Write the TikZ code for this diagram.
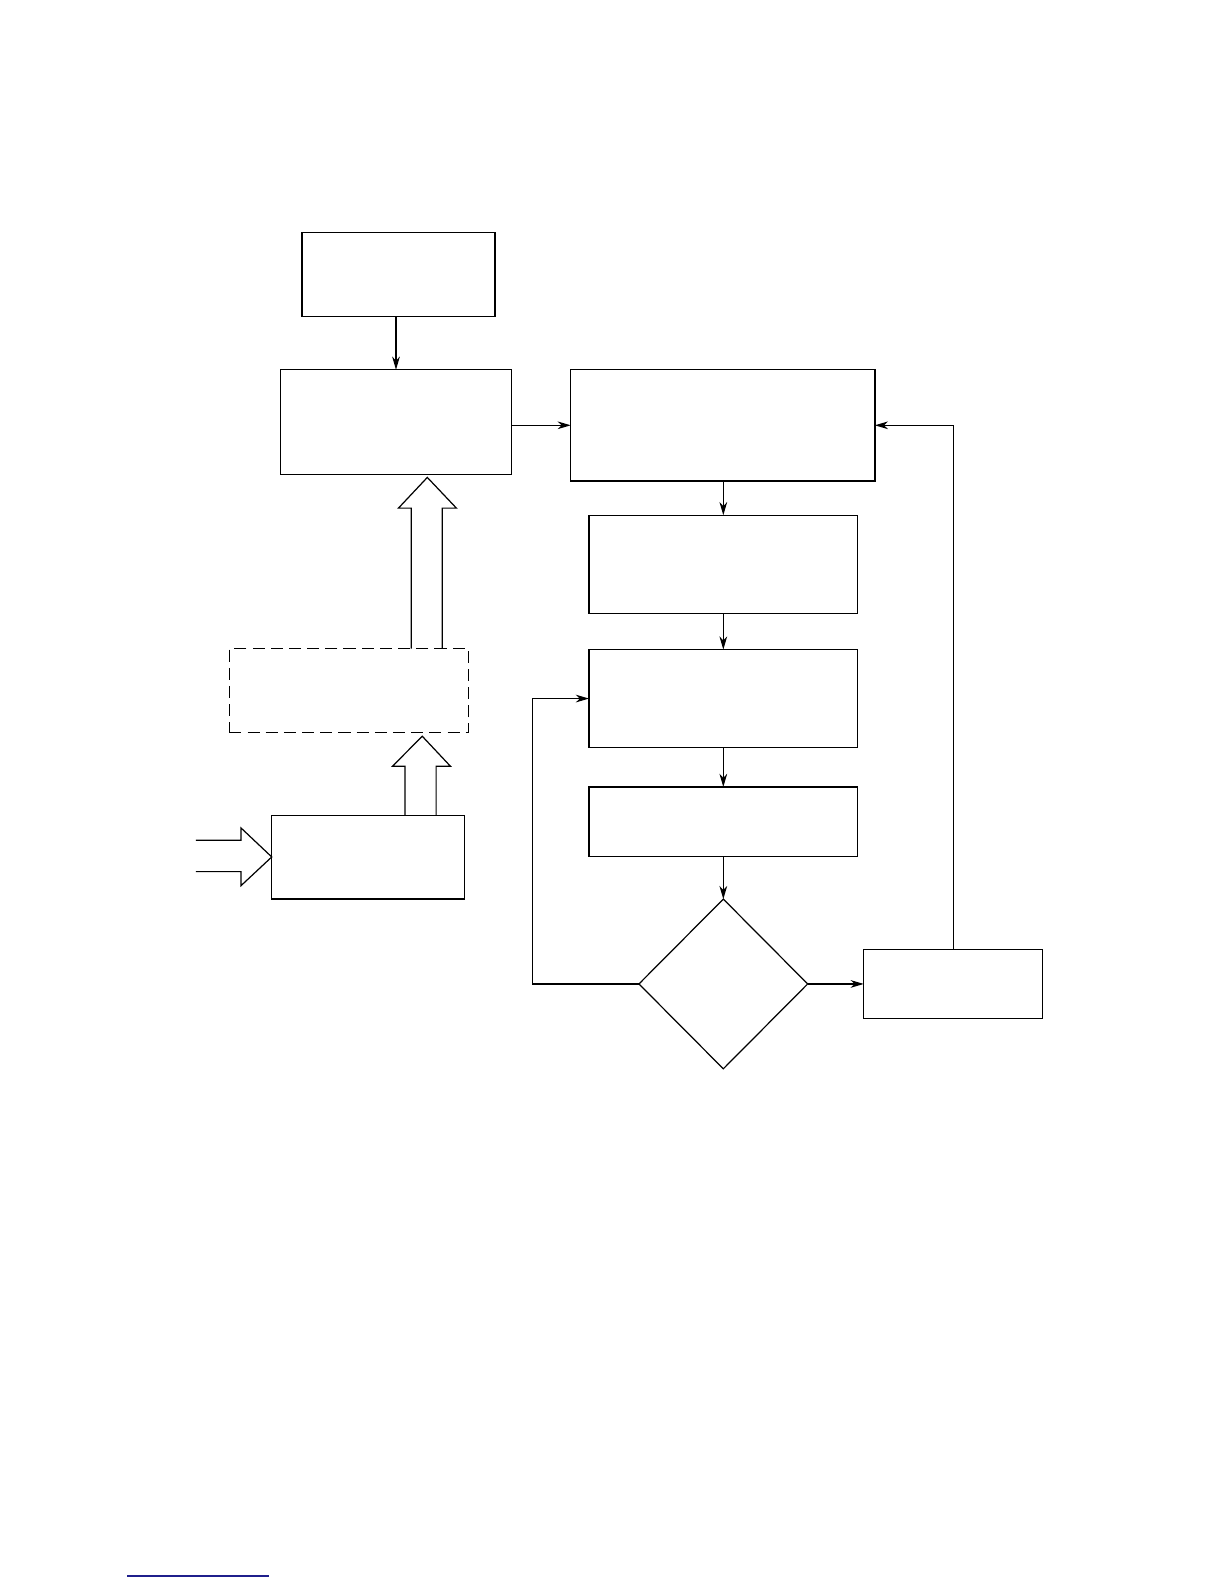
\documentclass[tikz,border=0pt]{standalone}
\usetikzlibrary{arrows.meta,shapes.geometric,fit}
\definecolor{linkblue}{rgb}{0.12,0.12,0.55}
\begin{document}
\begin{tikzpicture}[x=0.5pt,y=-0.5pt,
  box/.style={draw,line width=0.65pt,inner sep=0pt,outer sep=0pt},
  dbox/.style={box,dash pattern=on 6pt off 3pt},
  arr/.style={line width=0.6pt,-{Stealth[length=6.5pt,width=3.8pt,inset=2pt]}},
  blk/.style={line width=0.6pt,line join=miter}]
\useasboundingbox (0,0) rectangle (1212,1568);
% boxes
\node[box,fit={(299,230) (490,313)}] (A) {};
\node[box,fit={(278,366) (506,470)}] (B) {};
\node[box,fit={(565,366) (866,476)}] (C) {};
\node[box,fit={(583,510) (849,607)}] (D) {};
\node[box,fit={(583,643) (849,740)}] (E) {};
\node[box,fit={(583,779) (849,848)}] (F) {};
\node[box,fit={(855,940) (1032,1008)}] (G) {};
\node[dbox,fit={(227,642) (464,725)}] (H) {};
\node[box,fit={(269,807) (460,890)}] (I) {};
\node[draw,diamond,line width=0.6pt,inner sep=0pt,outer sep=0pt,
      minimum width=83.5pt,minimum height=84pt] (Q) at (716,974) {};
\coordinate (loop) at (527,974);
% connectors
\draw[arr] (B.north |- A.south) -- (B.north);
\draw[arr] (B.east |- C.west) -- (C.west);
\draw[arr] (D.north |- C.south) -- (D.north);
\draw[arr] (D.south) -- (E.north);
\draw[arr] (E.south) -- (F.north);
\draw[arr] (F.south) -- (Q.north);
\draw[arr] (Q.east) -- (Q.east -| G.west);
\draw[arr] (G.north) |- (C.east);
\draw[arr] (Q.west) -- (loop) |- (E.west);
% block arrows
\draw[blk] (407,642) -- (407,503) -- (394.4,503) -- (423,472.6) -- (451.8,503) -- (437.7,503) -- (437.7,642);
\draw[blk] (401,807) -- (401,758.5) -- (388.5,758.5) -- (418,728.8) -- (445.9,758.5) -- (431.7,758.5) -- (431.7,807);
\draw[blk] (194,831.8) -- (238.6,831.8) -- (238.6,819.6) -- (269,848.3) -- (238.6,876.7) -- (238.6,862.8) -- (194,862.8);
% underline
\draw[linkblue,line width=1pt] (126,1559.6) -- (266.4,1559.6);
\end{tikzpicture}
\end{document}
